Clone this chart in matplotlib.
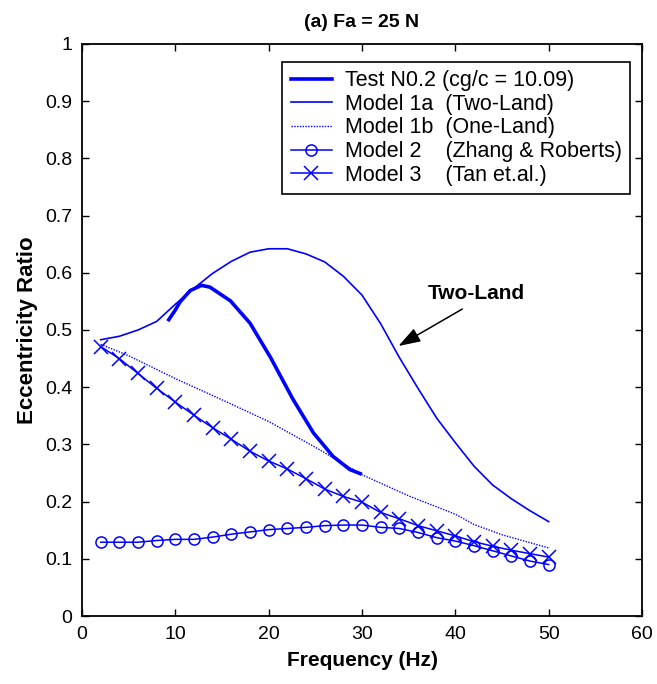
import matplotlib
matplotlib.use("Agg")
import matplotlib.pyplot as plt
import numpy as np

plt.rcParams['font.family'] = ['Liberation Sans', 'DejaVu Sans']

# Test N0.2
test_x = [9.3, 10.0, 10.5, 11.6, 12.8, 13.7, 15.9, 18.0, 20.2, 22.6, 24.8, 26.9, 28.7, 29.8]
test_y = [0.518, 0.535, 0.549, 0.569, 0.578, 0.575, 0.551, 0.512, 0.452, 0.379, 0.320, 0.279, 0.256, 0.249]

# Model grid
freq = [2, 4, 6, 8, 10, 12, 14, 16, 18, 20, 22, 24, 26, 28, 30, 32, 34, 36, 38, 40, 42, 44, 46, 48, 50]

m1a = [0.483, 0.489, 0.500, 0.515, 0.545, 0.573, 0.599, 0.620, 0.636, 0.642, 0.642, 0.633, 0.619,
       0.594, 0.561, 0.511, 0.452, 0.398, 0.346, 0.303, 0.262, 0.229, 0.205, 0.184, 0.165]

m1b_x = [2, 5, 10, 15, 20, 25, 30, 35, 40, 42, 45, 50]
m1b = [0.475, 0.455, 0.415, 0.378, 0.340, 0.295, 0.247, 0.210, 0.178, 0.160, 0.142, 0.119]

m2 = [0.129, 0.129, 0.129, 0.132, 0.134, 0.134, 0.138, 0.143, 0.147, 0.151, 0.153, 0.155, 0.158,
      0.159, 0.159, 0.155, 0.153, 0.146, 0.137, 0.131, 0.123, 0.114, 0.105, 0.096, 0.090]

m3 = [0.471, 0.450, 0.424, 0.398, 0.374, 0.351, 0.329, 0.309, 0.288, 0.271, 0.257, 0.240, 0.222,
      0.209, 0.199, 0.181, 0.170, 0.158, 0.149, 0.140, 0.130, 0.122, 0.115, 0.109, 0.103]

labels = ["Test N0.2 (cg/c = 10.09)", "Model 1a  (Two-Land)", "Model 1b  (One-Land)",
          "Model 2    (Zhang & Roberts)", "Model 3    (Tan et.al.)"]

blue = (0, 0, 1)

fig = plt.figure(figsize=(6.57, 6.84), dpi=100)
ax = fig.add_axes([0.1248, 0.0994, 0.8524, 0.8363])

ax.plot(test_x, test_y, color=blue, lw=2.6, label=labels[0])
ax.plot(freq, m1a, color=blue, lw=1.2, label=labels[1])
ax.plot(m1b_x, m1b, color=blue, lw=1.0, ls=(0, (1, 1)), label=labels[2])
ax.plot(freq, m2, color=blue, lw=1.1, marker='o', ms=8, mfc='none', mew=1.1, label=labels[3])
ax.plot(freq, m3, color=blue, lw=1.1, marker='x', ms=10, mew=1.1, label=labels[4])

ax.set_xlim(0, 60)
ax.set_ylim(0, 1)
ax.set_xticks(np.arange(0, 61, 10))
ax.set_yticks(np.arange(0, 1.01, 0.1))
ax.set_yticklabels(['0', '0.1', '0.2', '0.3', '0.4', '0.5', '0.6', '0.7', '0.8', '0.9', '1'])
ax.tick_params(direction='in', top=True, right=True, labelsize=14, length=5, width=1, pad=7)
for s in ax.spines.values():
    s.set_linewidth(1.3)

ax.set_xlabel("Frequency (Hz)", fontsize=15, fontweight='bold', labelpad=6)
ax.set_ylabel("Eccentricity Ratio", fontsize=16, fontweight='bold', labelpad=5)
ax.set_title("(a) Fa = 25 N", fontsize=14, fontweight='bold', pad=12)

leg = ax.legend(loc='upper right', bbox_to_anchor=(0.979, 0.969), borderaxespad=0,
                fontsize=15.5, fancybox=False, framealpha=1, edgecolor='black',
                handlelength=1.9, handletextpad=0.6, labelspacing=0.12, borderpad=0.4)
leg.get_frame().set_linewidth(1.2)

ax.annotate("Two-Land", xy=(33.9, 0.472), xytext=(42.2, 0.563), fontsize=15, fontweight='bold',
            ha='center', va='center',
            arrowprops=dict(arrowstyle='-|>,head_length=0.9,head_width=0.3', color='black', lw=1.1,
                            relpos=(0.46, 0.0), shrinkA=4, shrinkB=0))

fig.savefig("out.png", dpi=100)
